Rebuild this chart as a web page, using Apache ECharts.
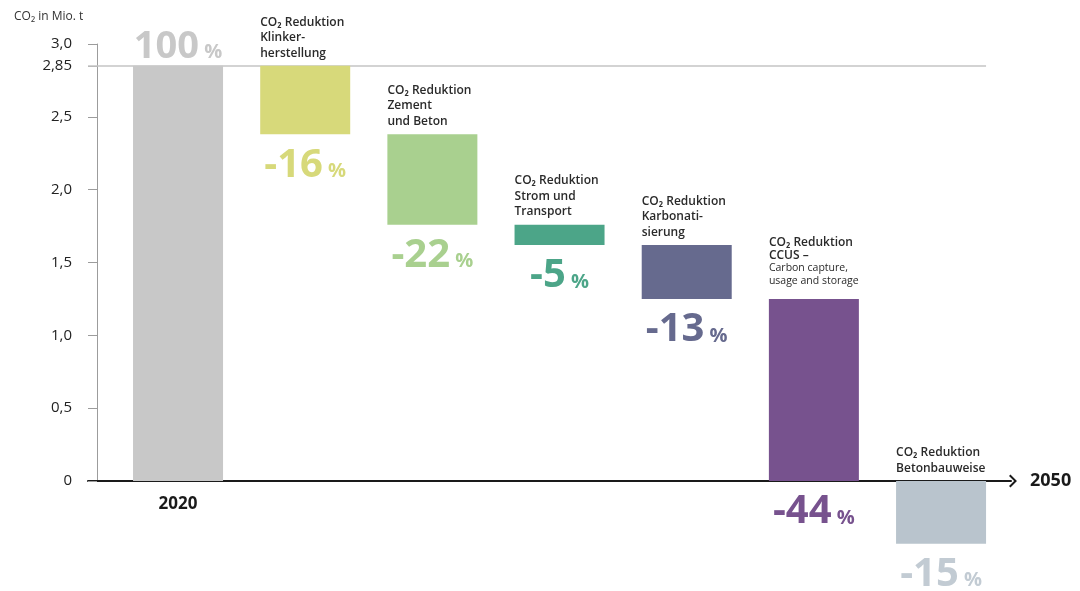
<!DOCTYPE html>
<html><head><meta charset="utf-8">
<script src="https://cdn.jsdelivr.net/npm/echarts@6/dist/echarts.min.js"></script>
<style>html,body{margin:0;padding:0;background:#fff}#c{width:1080px;height:591px}</style>
</head><body><div id="c"></div>
<script>
// ---- data ----
const stepNames = ['2020', 'Klinker-\nherstellung', 'Zement\nund Beton', 'Strom und\nTransport', 'Karbonati-\nsierung', 'CCUS –', 'Betonbauweise'];
const stepNotes = ['', '', '', '', '', 'Carbon capture,\nusage and storage', ''];
const titlePrefix = 'CO₂ Reduktion';
const startValue = 2.85;                                   // Mio. t CO2 in 2020
const changes = [-0.47, -0.62, -0.14, -0.37, -1.25, -0.43]; // Mio. t per measure
const percents = ['100', '-16', '-22', '-5', '-13', '-44', '-15'];
const yTicks = [0, 0.5, 1, 1.5, 2, 2.5, 2.85, 3];
const yTickLabels = ['0', '0,5', '1,0', '1,5', '2,0', '2,5', '2,85', '3,0'];
const endLabel = '2050';
const axisTitle = 'CO₂ in Mio. t';

// ---- styles ----
const palette = ['#c8c8c8', '#d7d97a', '#a9d08f', '#4ca588', '#666a8e', '#77528e', '#b9c4cd'];
const textPalette = ['#c8c8c8', '#d7d97a', '#a9d08f', '#4ca588', '#666a8e', '#77528e', '#c2cbd3'];
const FONT = 'Open Sans';
const barWidthPx = 90;
const stepPx = 127.17;
const xMin = -0.708, xMax = 6.55;

// ---- derived ----
const levels = [startValue];
changes.forEach((c, i) => levels.push(levels[i] + c));
const spans = stepNames.map((n, i) => {
  if (i === 0) return { hi: startValue, lo: 0 };
  const a = levels[i - 1], b = levels[i];
  return { hi: Math.max(a, b), lo: Math.min(a, b) };
});
const barData = spans.map((s, i) => [i, s.lo, s.hi]);

const pctRich = (c, big, small, pad) => ({
  n: { fontFamily: FONT, fontSize: big, fontWeight: 700, color: c, lineHeight: big + 4 },
  p: { fontFamily: FONT, fontSize: small, fontWeight: 700, color: c, lineHeight: big + 4, padding: [pad, 0, 0, 0] }
});

const topData = spans.map((s, i) => {
  if (i === 0) {
    return {
      value: [i, s.hi],
      label: { position: 'top', distance: -2, align: 'center', offset: [0, 0],
        formatter: '{n|' + percents[i] + '}{p| %}', rich: pctRich(textPalette[i], 38, 20, 11) }
    };
  }
  const dense = stepNotes[i] !== '';
  let txt = '{t|' + titlePrefix + '}\n' + stepNames[i].split('\n').map(l => '{t|' + l + '}').join('\n');
  if (dense) txt += '\n' + stepNotes[i].split('\n').map(l => '{s|' + l + '}').join('\n');
  return {
    value: [i, s.hi],
    label: { position: 'top', distance: dense ? 11 : 5, align: 'left', offset: [-barWidthPx / 2, 0], formatter: txt,
      rich: {
        t: { fontFamily: FONT, fontSize: 12, fontWeight: 600, color: '#2a2a2a', lineHeight: dense ? 13 : 15.5 },
        s: { fontFamily: FONT, fontSize: 10.5, fontWeight: 400, color: '#2a2a2a', lineHeight: 13 }
      } }
  };
});
const bottomData = spans.map((s, i) => {
  if (i === 0) {
    return { value: [i, 0], label: { position: 'bottom', distance: 15, formatter: stepNames[0],
      fontFamily: FONT, fontSize: 17, fontWeight: 700, color: '#1a1a1a' } };
  }
  return { value: [i, s.lo], label: { position: 'bottom', distance: 9,
    formatter: '{n|' + percents[i] + '}{p| %}', rich: pctRich(textPalette[i], 40, 20, 12) } };
});

const chart = echarts.init(document.getElementById('c'), null, { renderer: 'canvas' });
chart.setOption({
  animation: false,
  title: { text: axisTitle, left: 9, top: 6, textStyle: { fontFamily: FONT, fontSize: 12, fontWeight: 400, color: '#333' } },
  grid: { left: 88, right: 1080 - 1011, top: 44, bottom: 110, containLabel: false },
  xAxis: {
    type: 'value', min: xMin, max: xMax,
    axisLine: { show: true, onZero: true, symbol: ['none', 'path://M0,9 L9,0 L18,9 L16,11 L9,4 L2,11 Z'], symbolSize: [13, 8],
      symbolOffset: [0, 2], lineStyle: { color: '#1a1a1a', width: 2 } },
    axisTick: { show: false }, axisLabel: { show: false }, splitLine: { show: false },
    name: endLabel, nameLocation: 'end', nameGap: 19,
    nameTextStyle: { fontFamily: FONT, fontSize: 18, fontWeight: 700, color: '#1a1a1a', verticalAlign: 'middle' }
  },
  yAxis: {
    type: 'value', min: 0, max: 3, offset: -9,
    axisLine: { show: true, onZero: false, lineStyle: { color: '#9c9c9c', width: 1 } },
    axisTick: { show: true, length: 9, customValues: yTicks, lineStyle: { color: '#9c9c9c' } },
    axisLabel: { customValues: yTicks, margin: 25, fontFamily: FONT, fontSize: 15, color: '#222',
      formatter: v => { const k = yTicks.findIndex(t => Math.abs(t - v) < 1e-6); return k >= 0 ? yTickLabels[k] : ''; } },
    splitLine: { show: false }
  },
  series: [
    { type: 'custom', data: barData, clip: false, silent: true, encode: { x: 0, y: [1, 2] }, z: 2,
      renderItem: (params, api) => {
        const x = api.value(0);
        const pTop = api.coord([x, api.value(2)]);
        const pBot = api.coord([x, api.value(1)]);
        return { type: 'rect',
          shape: { x: pTop[0] - barWidthPx / 2, y: pTop[1], width: barWidthPx, height: pBot[1] - pTop[1] },
          style: { fill: palette[params.dataIndex] } };
      } },
    { type: 'scatter', data: topData, symbolSize: 0, clip: false, silent: true, z: 3,
      itemStyle: { opacity: 1 }, label: { show: true, opacity: 1 },
      markLine: { silent: true, symbol: 'none', label: { show: false }, z: 1,
        lineStyle: { color: '#c4c4c4', width: 1.5, type: 'solid', opacity: 1 },
        data: [[{ coord: [xMin, startValue] }, { coord: [stepNames.length - 1 + barWidthPx / 2 / stepPx, startValue] }]] } },
    { type: 'scatter', data: bottomData, symbolSize: 0, clip: false, silent: true, z: 3,
      itemStyle: { opacity: 1 }, label: { show: true, opacity: 1 } }
  ]
});
</script></body></html>
